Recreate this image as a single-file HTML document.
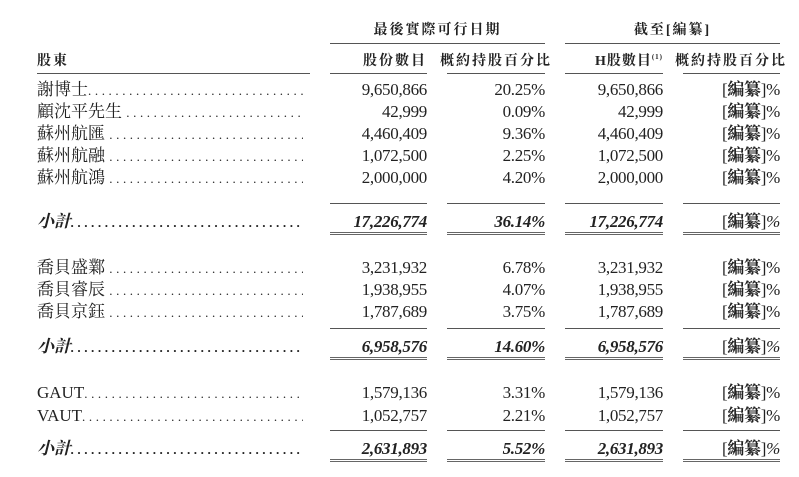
<!DOCTYPE html>
<html><head><meta charset="utf-8"><style>
body{margin:0;background:#fff;width:799px;height:477px;position:relative;overflow:hidden;font-family:"Liberation Serif","Noto Serif CJK SC","Noto Sans CJK TC",serif;color:#222}
.t{position:absolute;white-space:nowrap;line-height:20px}
.l{position:absolute;left:37px;width:266px;overflow:hidden;white-space:nowrap;font-size:17px;line-height:20px}
.l span{letter-spacing:3.6px;font-size:13px}
.n{position:absolute;text-align:right;font-size:17px;line-height:20px;white-space:nowrap;letter-spacing:-0.3px}
.c1{left:320px;width:107px}.c2{left:440px;width:105px}.c3{left:555px;width:108px}.c4{left:665px;width:115px}
.hr{position:absolute;height:0;border-top:1.5px solid #555}
.b{font-weight:bold;font-style:italic}
.h{font-weight:bold;font-size:14px;letter-spacing:2px}
sup{line-height:0;vertical-align:6px}
</style></head><body>
<div class="t h" style="left:350px;top:21px;width:175px;text-align:center">最後實際可行日期</div>
<div class="t h" style="left:565px;top:21px;width:215px;text-align:center">截至[編纂]</div>
<div class="hr" style="left:330px;top:43px;width:215px"></div>
<div class="hr" style="left:565px;top:43px;width:215px"></div>
<div class="t h" style="left:37px;top:52px">股東</div>
<div class="t h" style="left:330px;top:52px;width:97px;text-align:right">股份數目</div>
<div class="t h" style="left:440px;top:52px;width:105px;text-align:right">概約持股百分比</div>
<div class="t h" style="left:565px;top:52px;width:98px;text-align:right;letter-spacing:1px">H股數目<sup style="font-size:7px">(1)</sup></div>
<div class="t h" style="left:675px;top:52px;width:105px;text-align:right">概約持股百分比</div>
<div class="hr" style="left:37px;top:73px;width:273px"></div>
<div class="hr" style="left:330px;top:73px;width:97px"></div>
<div class="hr" style="left:447px;top:73px;width:98px"></div>
<div class="hr" style="left:565px;top:73px;width:98px"></div>
<div class="hr" style="left:683px;top:73px;width:97px"></div>

<div id="rows"></div>
<script>
var R=[
[80,"謝博士","9,650,866","20.25%","9,650,866"],
[102,"顧沈平先生 ","42,999","0.09%","42,999"],
[124,"蘇州航匯 ","4,460,409","9.36%","4,460,409"],
[146,"蘇州航融 ","1,072,500","2.25%","1,072,500"],
[168,"蘇州航鴻 ","2,000,000","4.20%","2,000,000"],
[212,"小計","17,226,774","36.14%","17,226,774",1],
[258,"喬貝盛鄴 ","3,231,932","6.78%","3,231,932"],
[280,"喬貝睿辰 ","1,938,955","4.07%","1,938,955"],
[302,"喬貝京鈺 ","1,787,689","3.75%","1,787,689"],
[337,"小計","6,958,576","14.60%","6,958,576",1],
[383,"GAUT","1,579,136","3.31%","1,579,136"],
[406,"VAUT","1,052,757","2.21%","1,052,757"],
[439,"小計","2,631,893","5.52%","2,631,893",1]];
var h="",d=".".repeat(80);
R.forEach(function(r){var b=r[5]?" b":"";
h+='<div class="l'+b+'" style="top:'+r[0]+'px">'+r[1]+'<span>'+d+'</span></div>';
h+='<div class="n c1'+b+'" style="top:'+r[0]+'px">'+r[2]+'</div>';
h+='<div class="n c2'+b+'" style="top:'+r[0]+'px">'+r[3]+'</div>';
h+='<div class="n c3'+b+'" style="top:'+r[0]+'px">'+r[4]+'</div>';
h+='<div class="n c4" style="top:'+r[0]+'px">[<b>編纂</b>]'+(r[5]?'<i>%</i>':'%')+'</div>';
if(r[5]){[[330,97],[447,98],[565,98],[683,97]].forEach(function(c){
h+='<div class="hr" style="left:'+c[0]+'px;top:'+(r[0]-9)+'px;width:'+c[1]+'px"></div>';
h+='<div class="hr" style="left:'+c[0]+'px;top:'+(r[0]+20)+'px;width:'+c[1]+'px;border-top:3px double #666"></div>';});}
});
document.getElementById("rows").innerHTML=h;
</script>
</body></html>
